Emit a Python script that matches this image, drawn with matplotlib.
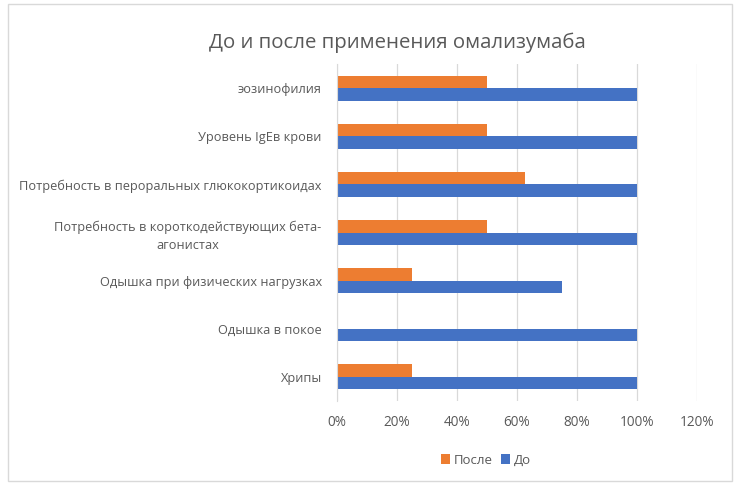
import matplotlib.pyplot as plt
import numpy as np
from matplotlib.patches import Rectangle

# данные
categories = ['Хрипы', 'Одышка в покое', 'Одышка при физических нагрузках',
              'Потребность в короткодействующих бета-\nагонистах',
              'Потребность в пероральных глюкокортикоидах',
              'Уровень IgEв крови', 'эозинофилия']
do_vals = [1.00, 1.00, 0.75, 1.00, 1.00, 1.00, 1.00]
posle_vals = [0.25, 0.00, 0.25, 0.50, 0.625, 0.50, 0.50]
xticks = [0, 0.2, 0.4, 0.6, 0.8, 1.0, 1.2]
xlabels = ['0%', '20%', '40%', '60%', '80%', '100%', '120%']

plt.rcParams['font.family'] = ['Open Sans', 'DejaVu Sans']
gray = '#595959'

fig = plt.figure(figsize=(7.4, 4.86), dpi=100)
ax = fig.add_axes([337/740, 1-401/486, 360/740, 337/486])

y = np.arange(len(categories))
h = 0.26
ax.barh(y + h/2, posle_vals, height=h, color='#ED7D31', label='После', zorder=3)
ax.barh(y - h/2, do_vals, height=h, color='#4472C4', label='До', zorder=3)

ax.set_xlim(0, 1.2)
ax.set_ylim(-0.5, len(categories) - 0.5)
ax.set_xticks(xticks)
ax.set_xticklabels(xlabels, color=gray, fontsize=9.8)
ax.set_yticks(y)
ax.set_yticklabels(categories, color=gray, fontsize=9.2, ha='right',
                   multialignment='center', linespacing=1.45)
ax.tick_params(axis='y', length=0, pad=11)
ax.tick_params(axis='x', length=0, pad=10)
ax.grid(axis='x', color='#D9D9D9', lw=0.9, zorder=0)
for s in ['top', 'right', 'bottom']:
    ax.spines[s].set_visible(False)
ax.spines['left'].set_color('#D9D9D9')
ax.spines['left'].set_zorder(4)

fig.text(397/740, 1-43/486, 'До и после применения омализумаба', ha='center', va='center',
         fontsize=14.7, color=gray)

handles, labels = ax.get_legend_handles_labels()
fig.legend(handles, labels, loc='center', bbox_to_anchor=(486/740, 1-460/486), ncol=2,
           frameon=False, fontsize=9.5, labelcolor=gray, handlelength=0.7, handleheight=0.7,
           handletextpad=0.3, columnspacing=0.6)

fig.patches.append(Rectangle((8/740, 1-481/486), 724/740, 477/486, transform=fig.transFigure,
                             fill=False, edgecolor='#D9D9D9', lw=1))

fig.savefig('out.png', dpi=100)
